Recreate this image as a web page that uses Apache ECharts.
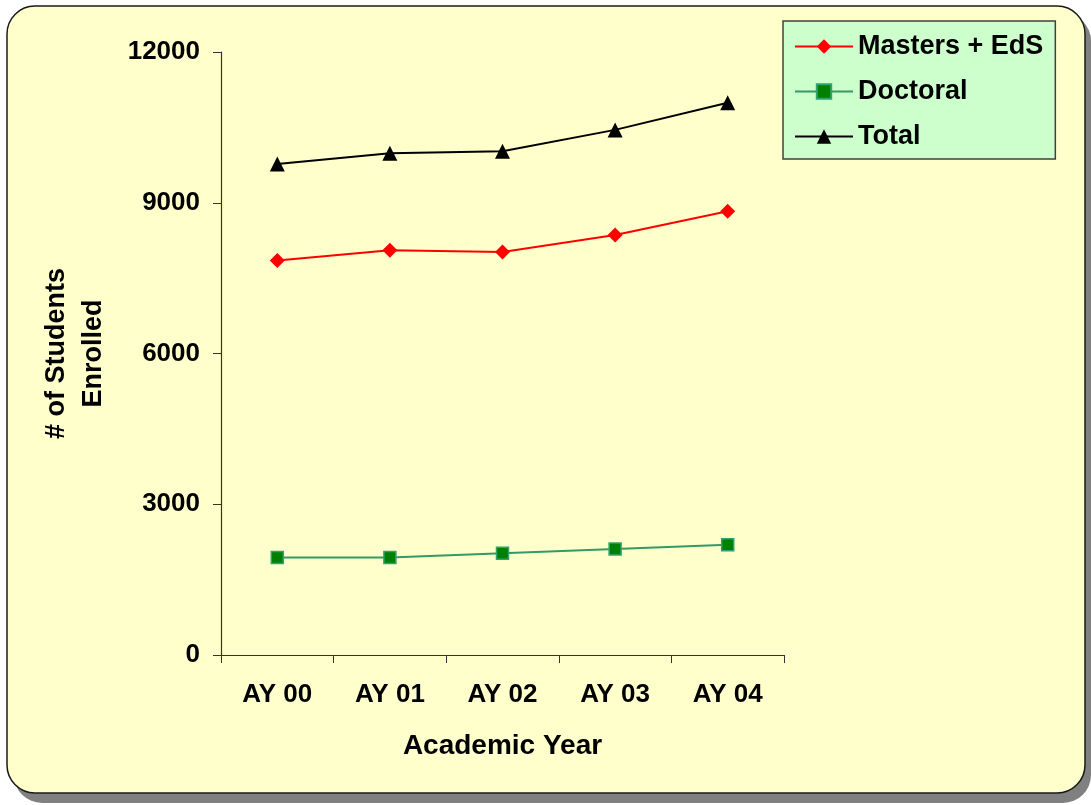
<!DOCTYPE html>
<html>
<head>
<meta charset="utf-8">
<script src="https://cdn.jsdelivr.net/npm/echarts@6/dist/echarts.min.js"></script>
<style>
  html, body { margin: 0; padding: 0; background: #ffffff; }
  #chart { width: 1091px; height: 805px; }
</style>
</head>
<body>
<div id="chart"></div>
<script>
// Graduate enrollment by academic year
const years = ['AY 00', 'AY 01', 'AY 02', 'AY 03', 'AY 04'];
const mastersEdS = [7850, 8055, 8020, 8360, 8830];
const doctoral = [1940, 1940, 2025, 2110, 2195];
const total = [9770, 9985, 10025, 10450, 10990];
const yTicks = { min: 0, max: 12000, step: 3000 };

const FONT = "'Liberation Sans', Arial, sans-serif";

const chart = echarts.init(document.getElementById('chart'), null, { renderer: 'canvas' });

chart.setOption({
  animation: false,
  backgroundColor: '#ffffff',
  graphic: [
    // drop shadow behind the panel
    { type: 'rect', z: -10, shape: { x: 14, y: 13, width: 1077, height: 790, r: 28 },
      style: { fill: '#808080' } },
    // rounded yellow panel
    { type: 'rect', z: -9, shape: { x: 7, y: 6, width: 1078, height: 787, r: 28 },
      style: { fill: '#FFFFCC', stroke: '#1a1a1a', lineWidth: 1.5 } }
  ],
  grid: { left: 221, top: 52, right: 307, bottom: 150, containLabel: false },
  legend: {
    orient: 'vertical',
    left: 783,
    top: 21,
    padding: [10, 12, 7, 11],
    itemGap: 14,
    itemWidth: 58,
    itemHeight: 18,
    backgroundColor: '#CCFFCC',
    borderColor: '#404040',
    borderWidth: 1.5,
    textStyle: { fontFamily: FONT, fontWeight: 'bold', fontSize: 27, color: '#000', lineHeight: 31 },
    data: ['Masters + EdS', 'Doctoral', 'Total']
  },
  xAxis: {
    type: 'category',
    data: years,
    boundaryGap: true,
    axisLine: { lineStyle: { color: '#333', width: 1.2 } },
    axisTick: { show: true, length: 8, alignWithLabel: false, lineStyle: { color: '#333' } },
    axisLabel: { margin: 27, fontFamily: FONT, fontWeight: 'bold', fontSize: 26, color: '#000' },
    name: 'Academic Year',
    nameLocation: 'middle',
    nameGap: 77,
    nameTextStyle: { fontFamily: FONT, fontWeight: 'bold', fontSize: 28, color: '#000' }
  },
  yAxis: {
    type: 'value',
    min: yTicks.min,
    max: yTicks.max,
    interval: yTicks.step,
    splitLine: { show: false },
    axisLine: { show: true, lineStyle: { color: '#333', width: 1.2 } },
    axisTick: { show: true, length: 8, lineStyle: { color: '#333' } },
    axisLabel: {
      margin: 21, fontFamily: FONT, fontWeight: 'bold', fontSize: 26, color: '#000',
      formatter: (v) => String(v)
    },
    name: '# of Students\nEnrolled',
    nameLocation: 'middle',
    nameRotate: 90,
    nameGap: 109,
    nameTextStyle: { fontFamily: FONT, fontWeight: 'bold', fontSize: 27, color: '#000', lineHeight: 37 }
  },
  series: [
    {
      name: 'Masters + EdS',
      type: 'line',
      data: mastersEdS,
      symbol: 'diamond',
      symbolSize: 15,
      lineStyle: { color: '#FF0000', width: 2 },
      itemStyle: { color: '#FF0000' }
    },
    {
      name: 'Doctoral',
      type: 'line',
      data: doctoral,
      symbol: 'rect',
      symbolSize: 12,
      lineStyle: { color: '#339966', width: 2 },
      itemStyle: { color: '#008000', borderColor: '#33A070', borderWidth: 1.5 }
    },
    {
      name: 'Total',
      type: 'line',
      data: total,
      symbol: 'triangle',
      symbolSize: 15,
      lineStyle: { color: '#000000', width: 2 },
      itemStyle: { color: '#000000' }
    }
  ]
});
</script>
</body>
</html>
